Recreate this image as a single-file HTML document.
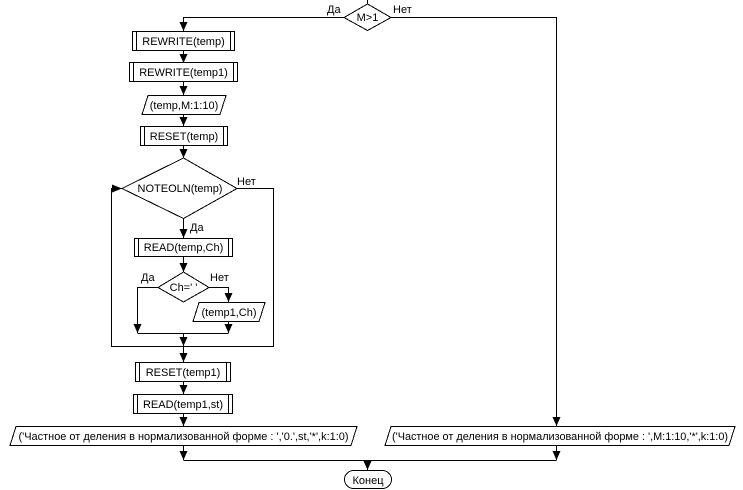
<!DOCTYPE html>
<html><head><meta charset="utf-8"><style>
html,body{margin:0;padding:0;background:#fff;}
svg{display:block;}
text{font-family:"Liberation Sans",sans-serif;font-size:11px;fill:#000;}
</style></head><body>
<svg width="743" height="490" viewBox="0 0 743 490" xmlns="http://www.w3.org/2000/svg">
<defs>
<marker id="a" markerWidth="9" markerHeight="8" refX="9" refY="4" orient="auto" markerUnits="userSpaceOnUse">
<path d="M0,0 L9,4 L0,8 z" fill="#000"/></marker>
<marker id="r" markerWidth="10" markerHeight="8" refX="10" refY="4" orient="auto" markerUnits="userSpaceOnUse">
<path d="M0,0 L10,4 L0,8 z" fill="#000"/></marker>
</defs>
<g stroke="#000" stroke-width="1" fill="none" shape-rendering="crispEdges">
<line x1="367.5" y1="0" x2="367.5" y2="4"/>
<polyline points="344,17.5 183.5,17.5 183.5,31" marker-end="url(#a)"/>
<polyline points="391,17.5 556.5,17.5 556.5,426" marker-end="url(#a)"/>
<line x1="183.5" y1="50" x2="183.5" y2="63" marker-end="url(#a)"/>
<line x1="183.5" y1="81" x2="183.5" y2="95" marker-end="url(#a)"/>
<line x1="183.5" y1="114" x2="183.5" y2="126" marker-end="url(#a)"/>
<line x1="183.5" y1="145" x2="183.5" y2="158" marker-end="url(#a)"/>
<line x1="183.5" y1="218" x2="183.5" y2="238" marker-end="url(#a)"/>
<line x1="183.5" y1="256" x2="183.5" y2="272" marker-end="url(#a)"/>
<polyline points="158,287.5 137.5,287.5 137.5,333" marker-end="url(#a)"/>
<polyline points="209,287.5 228.5,287.5 228.5,302" marker-end="url(#a)"/>
<line x1="228.5" y1="321" x2="228.5" y2="333" marker-end="url(#a)"/>
<line x1="137.5" y1="333.5" x2="228.5" y2="333.5"/>
<line x1="183.5" y1="333" x2="183.5" y2="346" marker-end="url(#a)"/>
<polyline points="183.5,346.5 111.5,346.5 111.5,188.5 122,188.5" marker-end="url(#r)"/>
<polyline points="237,188.5 273.5,188.5 273.5,346.5 183.5,346.5"/>
<line x1="183.5" y1="346" x2="183.5" y2="362" marker-end="url(#a)"/>
<line x1="183.5" y1="381" x2="183.5" y2="394" marker-end="url(#a)"/>
<line x1="183.5" y1="413" x2="183.5" y2="426" marker-end="url(#a)"/>
<line x1="183.5" y1="445" x2="183.5" y2="460" marker-end="url(#a)"/>
<line x1="556.5" y1="445" x2="556.5" y2="460" marker-end="url(#a)"/>
<line x1="183.5" y1="460.5" x2="556.5" y2="460.5"/>
<line x1="367.5" y1="460" x2="367.5" y2="470" marker-end="url(#a)"/>
<polygon points="344,17.5 367.5,4 391,17.5 367.5,30.5" fill="#fff"/>
<rect x="132.5" y="31.5" width="102" height="19"/><line x1="136.5" y1="31.5" x2="136.5" y2="50.5"/><line x1="230.5" y1="31.5" x2="230.5" y2="50.5"/>
<rect x="129.5" y="62.5" width="108" height="19"/><line x1="133.5" y1="62.5" x2="133.5" y2="81.5"/><line x1="233.5" y1="62.5" x2="233.5" y2="81.5"/>
<polygon points="148,95.5 226,95.5 220,114.5 142,114.5"/>
<rect x="140.5" y="126.5" width="87" height="19"/><line x1="144.5" y1="126.5" x2="144.5" y2="145.5"/><line x1="223.5" y1="126.5" x2="223.5" y2="145.5"/>
<polygon points="122,188.5 183.5,158 237,188.5 183.5,218.5"/>
<rect x="134.5" y="238.5" width="98" height="18"/><line x1="138.5" y1="238.5" x2="138.5" y2="256.5"/><line x1="228.5" y1="238.5" x2="228.5" y2="256.5"/>
<polygon points="158,287.5 183.5,272 209,287.5 183.5,302"/>
<polygon points="199,302.5 265,302.5 259,321.5 193,321.5" fill="#fff"/>
<rect x="135.5" y="362.5" width="95" height="19"/><line x1="139.5" y1="362.5" x2="139.5" y2="381.5"/><line x1="226.5" y1="362.5" x2="226.5" y2="381.5"/>
<rect x="133.5" y="394.5" width="99" height="19"/><line x1="137.5" y1="394.5" x2="137.5" y2="413.5"/><line x1="228.5" y1="394.5" x2="228.5" y2="413.5"/>
<polygon points="16,426.5 357,426.5 351,445.5 10,445.5"/>
<polygon points="391,426.5 735,426.5 729,445.5 385,445.5"/>
<rect x="344.5" y="470.5" width="47" height="18" rx="9" ry="9"/>
</g>
<text x="327" y="13">Да</text><text x="393" y="13">Нет</text>
<text x="367.5" y="21" text-anchor="middle">M&gt;1</text>
<text x="183.5" y="45" text-anchor="middle">REWRITE(temp)</text>
<text x="183.5" y="76" text-anchor="middle">REWRITE(temp1)</text>
<text x="184" y="109" text-anchor="middle">(temp,M:1:10)</text>
<text x="184" y="140" text-anchor="middle">RESET(temp)</text>
<text x="180" y="192" text-anchor="middle">NOTEOLN(temp)</text>
<text x="237" y="185">Нет</text><text x="190" y="231">Да</text>
<text x="183.5" y="251" text-anchor="middle">READ(temp,Ch)</text>
<text x="183.5" y="291" text-anchor="middle">Ch=' '</text>
<text x="141" y="281">Да</text><text x="210" y="281">Нет</text>
<text x="229" y="316" text-anchor="middle">(temp1,Ch)</text>
<text x="183" y="376" text-anchor="middle">RESET(temp1)</text>
<text x="183" y="408" text-anchor="middle">READ(temp1,st)</text>
<text x="183.5" y="440" text-anchor="middle" textLength="330" lengthAdjust="spacingAndGlyphs">('Частное от деления в нормализованной форме  : ','0.',st,'*',k:1:0)</text>
<text x="560" y="440" text-anchor="middle" textLength="336" lengthAdjust="spacingAndGlyphs">('Частное от деления в нормализованной форме  : ',M:1:10,'*',k:1:0)</text>
<text x="368" y="484" text-anchor="middle">Конец</text>
</svg>
</body></html>
